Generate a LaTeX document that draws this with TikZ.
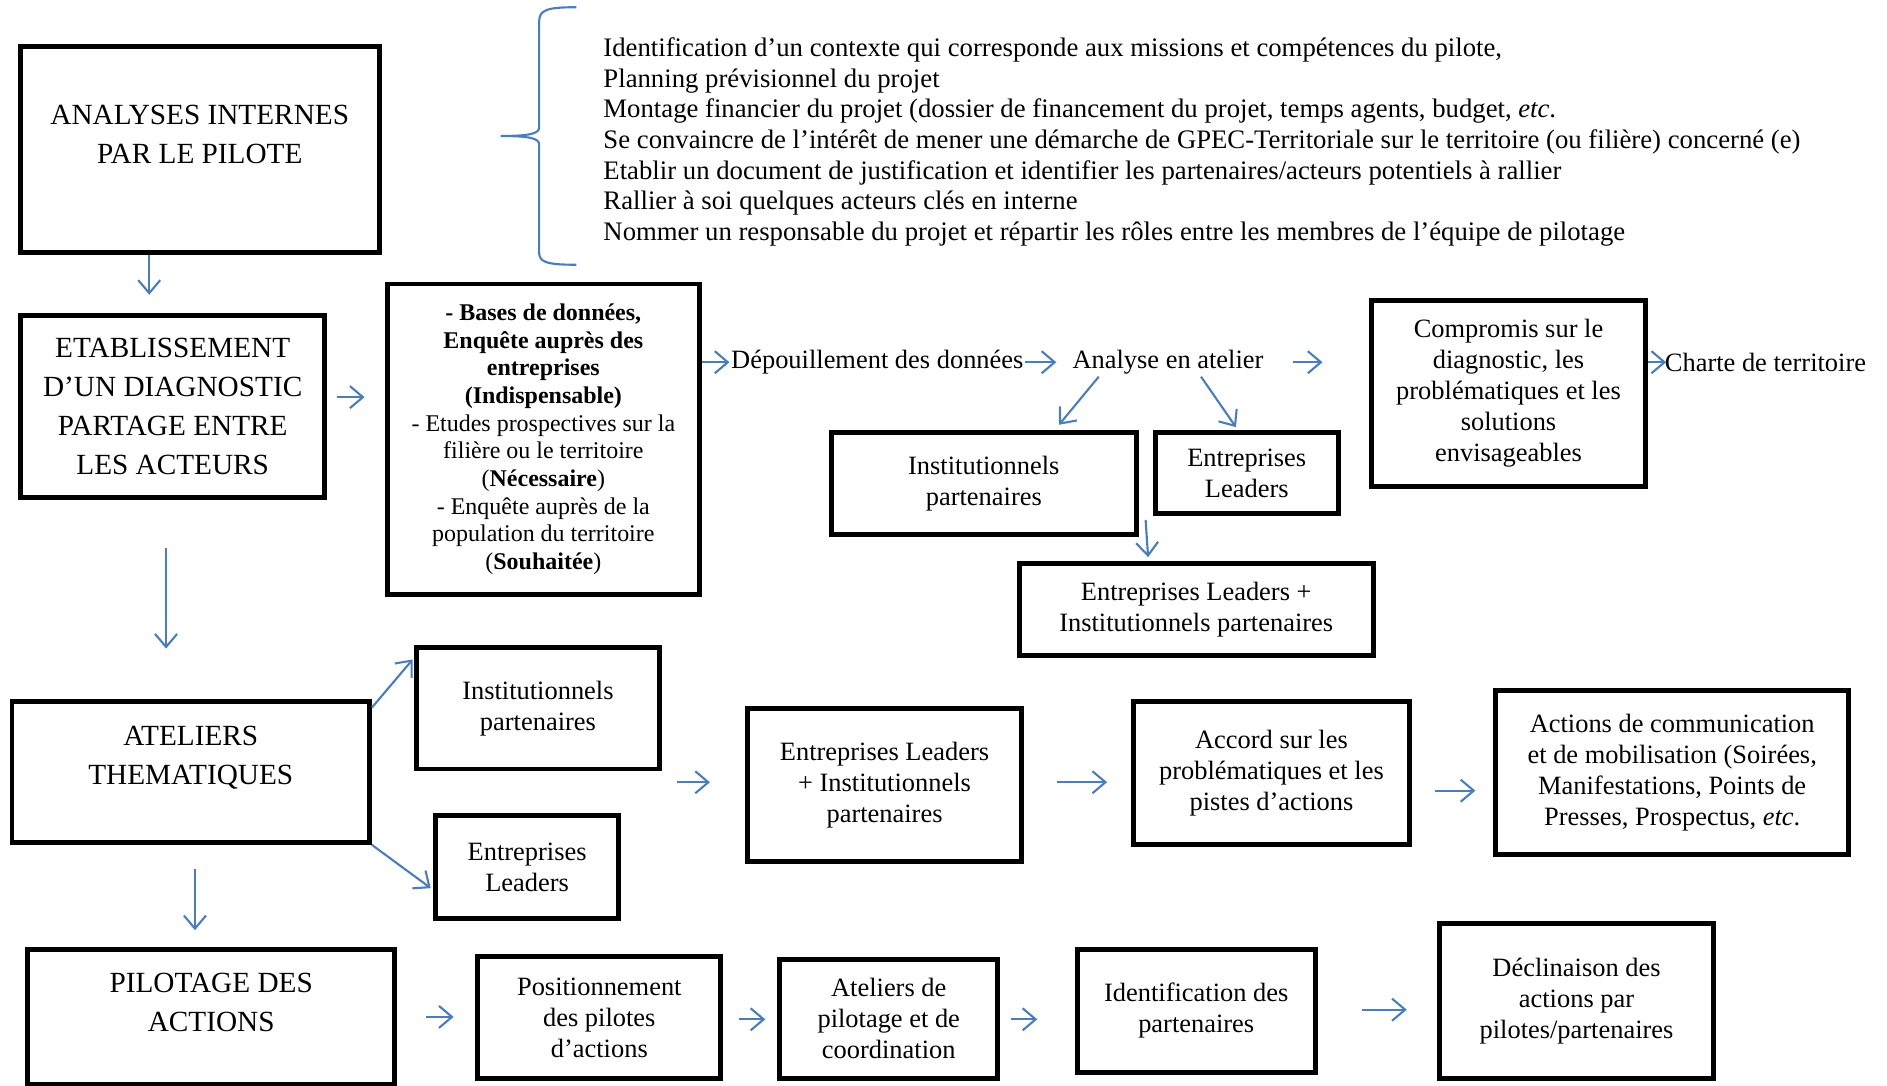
\documentclass[tikz,border=0pt]{standalone}
\usepackage{fontspec}
\setmainfont{Liberation Serif}
\usepackage{xcolor}
\usepackage{tikz}
\usetikzlibrary{arrows.meta,calc}
\definecolor{arrowblue}{HTML}{4A7EBB}
\definecolor{boxblack}{HTML}{000000}
\newcommand{\capsfont}{\fontsize{8.3pt}{11.1pt}\selectfont}
\newcommand{\boxfont}{\fontsize{7.5pt}{8.8pt}\selectfont}
\newcommand{\listfont}{\fontsize{7.58pt}{8.68pt}\selectfont}
\newcommand{\basesfont}{\fontsize{6.8pt}{7.85pt}\selectfont}
\tikzset{every node/.append style={font=\boxfont},
  box/.style={draw=boxblack,line width=1.4pt,align=center,inner sep=0pt},
  bigbox/.style={box,font=\capsfont},
  plain/.style={inner sep=0.3pt},
  arr/.style={->,arrowblue,line width=0.6pt}}

\begin{document}
\begin{tikzpicture}[>={Straight Barb[length=1.3mm,width=2.2mm]},x=0.12mm,y=-0.12mm]
\useasboundingbox (0,0) rectangle (1568,901.6);
\node[bigbox,minimum width=35.76mm,minimum height=20.52mm] (anaint) at (166,124.5) {};
\node[font=\capsfont,align=center] (anainttxt) at (166,111.5) {ANALYSES INTERNES\\PAR LE PILOTE};
\draw[arrowblue,line width=0.6pt] (479,6) .. controls (455,6) and (448,8) .. (448,18) -- (448,106)
  .. controls (448,111) and (440,113) .. (416,113) .. controls (440,113) and (448,115) .. (448,120)
  -- (448,210) .. controls (448,218) and (455,220) .. (479,220);
\node[plain,font=\listfont,align=left,anchor=west] (taches) at (500,118) {Identification d’un contexte qui corresponde aux missions et compétences du pilote,\\
Planning prévisionnel du projet\\
Montage financier du projet (dossier de financement du projet, temps agents, budget, \textit{etc}.\\
Se convaincre de l’intérêt de mener une démarche de GPEC-Territoriale sur le territoire (ou filière) concerné (e)\\
Etablir un document de justification et identifier les partenaires/acteurs potentiels à rallier\\
Rallier à soi quelques acteurs clés en interne\\
Nommer un responsable du projet et répartir les rôles entre les membres de l’équipe de pilotage};

\node[bigbox,minimum width=30.36mm,minimum height=18.12mm] (etab) at (143.5,337.5) {ETABLISSEMENT\\D’UN DIAGNOSTIC\\PARTAGE ENTRE\\LES ACTEURS};
\node[box,font=\basesfont,minimum width=31.08mm,minimum height=30.96mm] (bases) at (451.5,365) {\textbf{- Bases de données,}\\\textbf{Enquête auprès des}\\\textbf{entreprises}\\\textbf{(Indispensable)}\\- Etudes prospectives sur la\\filière ou le territoire\\(\textbf{Nécessaire})\\- Enquête auprès de la\\population du territoire\\(\textbf{Souhaitée})};
\node[plain] (depo) at (729,301) {Dépouillement des données};
\node[plain] (analyse) at (970.5,301) {Analyse en atelier};
\node[box,minimum width=27.24mm,minimum height=18.48mm] (compro) at (1253.5,327) {Compromis sur le\\diagnostic, les\\problématiques et les\\solutions\\envisageables};
\node[plain] (charte) at (1467,301) {Charte de territoire};
\node[box,minimum width=30.36mm,minimum height=10.2mm] (instA) at (817.5,401.5) {Institutionnels\\partenaires};
\node[box,minimum width=18.24mm,minimum height=8.16mm] (entA) at (1036,393) {Entreprises\\Leaders};
\node[box,minimum width=35.28mm,minimum height=9.24mm] (combA) at (994,506.5) {Entreprises Leaders +\\Institutionnels partenaires};

\node[bigbox,minimum width=35.64mm,minimum height=14.04mm] (atel) at (158.5,641.5) {};
\node[font=\capsfont,align=center] (ateltxt) at (158.5,629.5) {ATELIERS\\THEMATIQUES};
\node[box,minimum width=24.24mm,minimum height=12.12mm] (instB) at (447,588.5) {Institutionnels\\partenaires};
\node[box,minimum width=18.24mm,minimum height=10.2mm] (entB) at (438,720.5) {Entreprises\\Leaders};
\node[box,minimum width=27.36mm,minimum height=15.24mm] (combB) at (735,652.5) {Entreprises Leaders\\+ Institutionnels\\partenaires};
\node[box,minimum width=27.48mm,minimum height=14.28mm] (accord) at (1056.5,642.5) {Accord sur les\\problématiques et les\\pistes d’actions};
\node[box,minimum width=35.16mm,minimum height=16.32mm] (actions) at (1389.5,642) {Actions de communication\\et de mobilisation (Soirées,\\Manifestations, Points de\\Presses, Prospectus, \textit{etc}.};

\node[bigbox,minimum width=36.6mm,minimum height=13.44mm] (pilot) at (175.5,845) {};
\node[font=\capsfont,align=center] (pilottxt) at (175.5,833) {PILOTAGE DES\\ACTIONS};
\node[box,minimum width=24.24mm,minimum height=12.12mm] (posit) at (498,845.5) {Positionnement\\des pilotes\\d’actions};
\node[box,minimum width=21.72mm,minimum height=11.88mm] (atpil) at (738.5,846.5) {Ateliers de\\pilotage et de\\coordination};
\node[box,minimum width=23.76mm,minimum height=12.24mm] (ident) at (994,840) {Identification des\\partenaires};
\node[box,minimum width=27.36mm,minimum height=15.48mm] (declin) at (1310,831.5) {Déclinaison des\\actions par\\pilotes/partenaires};

\draw[arr,shorten >=1.8mm] (124,0 |- anaint.south) -- (124,0 |- etab.north);
\draw[arr,shorten <=0.96mm,shorten >=2.04mm] (etab.east |- 0,330) -- (bases.west |- 0,330);
\draw[arr] (bases.east |- depo.west) -- (depo.west);
\draw[arr,shorten >=1.44mm] (depo.east) -- (analyse.west);
\draw[arr,shorten <=2.76mm,shorten >=4.68mm] (analyse.east) -- (compro.west |- analyse.east);
\draw[arr,shorten >=-0.3mm] (compro.east |- charte.west) -- (charte.west);
\draw[arr] ($(analyse)+(-57.5,12)$) -- ($(instA.north)+(62.5,-4)$);
\draw[arr] ($(analyse)+(27.5,12)$) -- ($(entA.north)+(-9,-2)$);
\draw[arr] ($(entA.south west)+(-6,3)$) -- ($(combA.north)+(-40,-3)$);
\draw[arr,shorten <=4.8mm,shorten >=5.04mm] (138,0 |- etab.south) -- (138,0 |- atel.north);
\draw[arr] ($(atel.north east)+(0,7)$) -- ($(instB.north west)+(-1,12)$);
\draw[arr] (atel.south east) -- ($(entB.west)+(-2,17.5)$);
\draw[arr] ($(combB.west)+(-56,-2.5)$) -- ($(combB.west)+(-29,-2.5)$);
\draw[arr,shorten <=3.24mm,shorten >=2.4mm] (combB.east |- 0,650) -- (accord.west |- 0,650);
\draw[arr,shorten <=2.28mm,shorten >=1.8mm] (accord.east |- 0,657) -- (actions.west |- 0,657);
\draw[arr,shorten <=2.4mm,shorten >=1.68mm] (162,0 |- atel.south) -- (162,0 |- pilot.north);
\draw[arr,shorten <=2.88mm,shorten >=2.16mm] (pilot.east |- 0,845) -- (posit.west |- 0,845);
\draw[arr,shorten <=1.56mm,shorten >=1.2mm] (posit.east |- 0,847) -- (atpil.west |- 0,847);
\draw[arr,shorten <=1.08mm,shorten >=3.72mm] (atpil.east |- 0,847) -- (ident.west |- 0,847);
\draw[arr,shorten <=4.44mm,shorten >=3mm] (ident.east |- 0,839) -- (declin.west |- 0,839);
\end{tikzpicture}
\end{document}
